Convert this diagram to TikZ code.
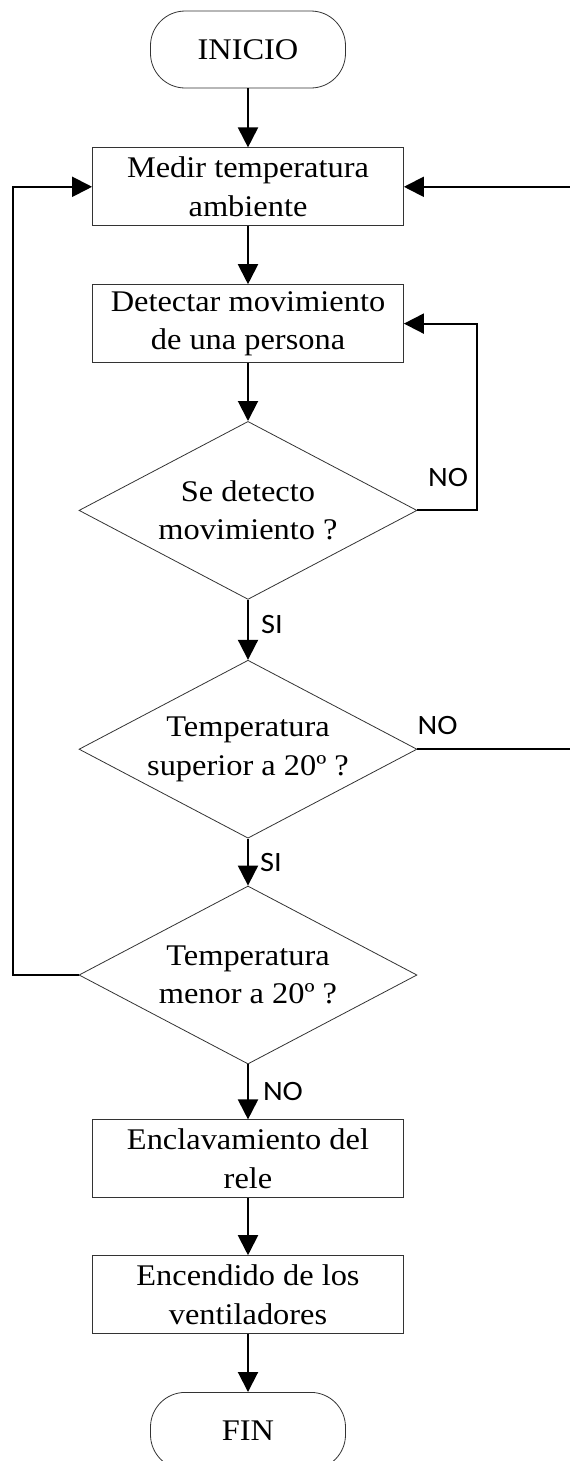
\documentclass[tikz,border=0pt]{standalone}
\usepackage{fontspec}
\setmainfont{Liberation Serif}[FakeStretch=1.08]
\newfontfamily\lblfont{Carlito}[FakeStretch=1.09]
\usetikzlibrary{
  shapes.geometric,
  arrows.meta,
  positioning
}

\begin{document}
\begin{tikzpicture}[
        x=0.75pt, y=-0.75pt,
        node distance=43.5pt,
        every node/.style={font=\fontsize{22.5}{29}\selectfont},
        term/.style={rectangle, draw=black!80, line width=0.6pt, rounded corners=26pt, minimum width=146.25pt, minimum height=57.75pt, inner sep=2pt},
        box/.style={rectangle, draw=black!80, line width=0.6pt, align=center, minimum width=233.25pt, minimum height=58.5pt, inner sep=2pt},
        decision/.style={diamond, aspect=1.9, draw=black!80, line width=0.6pt, align=center, minimum width=253.5pt, minimum height=133.5pt, inner sep=0pt},
        arrow/.style={line width=1.5pt, -{Triangle[length=15pt, width=15pt]}},
        lbl/.style={font=\lblfont\fontsize{21}{21}\selectfont, inner sep=0pt}
    ]
    \useasboundingbox (0,0) rectangle (570,1461);

    % Main column
    \node[term] (inicio) at (248,49.5) {INICIO};
    \node[box, below=44.25pt of inicio] (medir) {Medir temperatura\\ambiente};
    \node[box, below=of medir] (detectar) {Detectar movimiento\\de una persona};
    \node[decision, below=of detectar] (mov) {Se detecto\\movimiento ?};
    \node[decision, below=45pt of mov] (sup) {Temperatura\\superior a 20º ?};
    \node[decision, below=35.25pt of sup] (men) {Temperatura\\menor a 20º ?};
    \node[box, below=41.25pt of men] (rele) {Enclavamiento del\\rele};
    \node[box, below=42.75pt of rele] (vent) {Encendido de los\\ventiladores};
    \node[term, below=of vent] (fin) {FIN};

    % Arrows
    \draw[arrow] (inicio) -- (medir);
    \draw[arrow] (medir) -- (detectar);
    \draw[arrow] (detectar) -- (mov);
    \draw[arrow] (mov) -- node[lbl, right=9pt, yshift=3.75pt] (si1) {SI} (sup);
    \draw[arrow] (sup) -- node[lbl, right=8.25pt] (si2) {SI} (men);
    \draw[arrow] (men) -- node[lbl, right=10.5pt] (no3) {NO} (rele);
    \draw[arrow] (rele) -- (vent);
    \draw[arrow] (vent) -- (fin);

    % Loops back
    \draw[arrow] (mov.east) -- ++(60,0) coordinate (c1) |- (detectar.east);
    \node[lbl, anchor=south east] (no1) at ([shift={(-9,-23)}]c1) {NO};
    \draw[arrow] (sup.east) -- ++(154,0) coordinate (c2) |- (medir.east);
    \node[lbl, anchor=south west] (no2) at ([yshift=10.5pt]sup.east) {NO};
    \draw[arrow] (men.west) -- ++(-66,0) coordinate (c3) |- (medir.west);

\end{tikzpicture}
\end{document}
